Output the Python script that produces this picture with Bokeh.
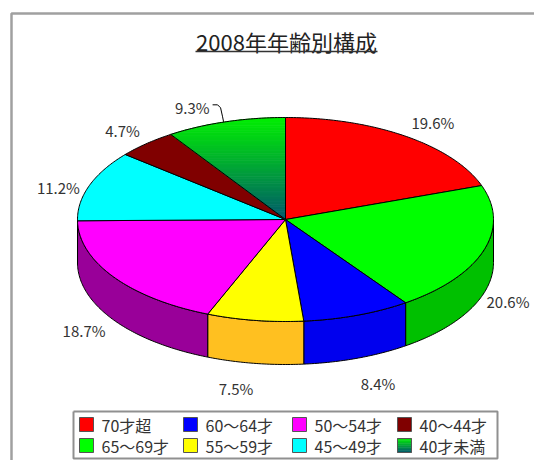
import math
from bokeh.plotting import figure
from bokeh.models import Range1d
from bokeh.core.properties import value
from bokeh.embed import file_html
from bokeh.resources import INLINE

# ---------------- data ----------------
chart_title = "2008年年齢別構成"
categories = ["70才超", "65～69才", "60～64才", "55～59才",
              "50～54才", "45～49才", "40～44才", "40才未満"]
shares = [19.6, 20.6, 8.4, 7.5, 18.7, 11.2, 4.7, 9.3]
top_colors = ["#FF0000", "#00FF00", "#0000FF", "#FFFF00",
              "#FF00FF", "#00FFFF", "#800000", "gradient"]
side_colors = ["#C00000", "#00C000", "#0000EE", "#FFC020",
               "#990099", "#00C0C0", "#600000", "#008060"]
grad_top = (0, 240, 0)
grad_bottom = (0, 88, 108)

# ---------------- layout ----------------
FONT = "Noto Sans CJK JP"
TXT = "#333333"
W, H = 534, 460
cx, cy, rx, ry, depth = 285.0, 219.0, 208.0, 102.0, 43.0

p = figure(width=W, height=H, x_range=Range1d(0, W), y_range=Range1d(H, 0),
           output_backend="svg", toolbar_location=None, min_border=0)
p.axis.visible = False
p.grid.visible = False
p.outline_line_color = None
p.background_fill_color = "white"
p.border_fill_color = "white"


def pt(theta, dy=0.0):
    t = math.radians(theta)
    return cx + rx * math.sin(t), cy - ry * math.cos(t) + dy


def arc(a, b, dy=0.0):
    n = max(2, int(abs(b - a) / 0.75) + 2)
    return [pt(a + (b - a) * i / (n - 1), dy) for i in range(n)]


def clip_half(poly, f):
    out = []
    n = len(poly)
    for i in range(n):
        P, Q = poly[i], poly[(i + 1) % n]
        fp, fq = f(P), f(Q)
        if fp >= 0:
            out.append(P)
        if (fp >= 0) != (fq >= 0):
            t = fp / (fp - fq)
            out.append((P[0] + t * (Q[0] - P[0]), P[1] + t * (Q[1] - P[1])))
    return out


def mix(c0, c1, t):
    return "#%02x%02x%02x" % tuple(int(round(c0[k] + (c1[k] - c0[k]) * t)) for k in range(3))


# frame
p.line([11, 11, W], [H + 2, 13, 13], line_color="#A0A0A0", line_width=2.5)

# angles
total = sum(shares)
starts, ends = [], []
acc = 0.0
for s in shares:
    starts.append(acc / total * 360.0)
    acc += s
    ends.append(acc / total * 360.0)

# side walls (front half: 90..270 deg)
sx, sy, sc = [], [], []
for a, b, col in zip(starts, ends, side_colors):
    a2, b2 = max(a, 90.0), min(b, 270.0)
    if b2 <= a2:
        continue
    poly = arc(a2, b2) + arc(b2, a2, depth)
    sx.append([q[0] for q in poly])
    sy.append([q[1] for q in poly])
    sc.append(col)
p.patches(sx, sy, fill_color=sc, line_color="black", line_width=1)

# top faces
tx, ty, tc = [], [], []
grad_polys = []
for a, b, col in zip(starts, ends, top_colors):
    poly = [(cx, cy)] + arc(a, b)
    if col == "gradient":
        grad_polys.append(poly)
        continue
    tx.append([q[0] for q in poly])
    ty.append([q[1] for q in poly])
    tc.append(col)
p.patches(tx, ty, fill_color=tc, line_color="black", line_width=1)

for poly in grad_polys:
    ymin = min(q[1] for q in poly)
    ymax = max(q[1] for q in poly)
    nb = 40
    bx, by, bc = [], [], []
    for i in range(nb):
        y0 = ymin + (ymax - ymin) * i / nb
        y1 = ymin + (ymax - ymin) * (i + 1) / nb
        band = clip_half(poly, lambda q: q[1] - y0)
        band = clip_half(band, lambda q: y1 - q[1]) if band else band
        if len(band) < 3:
            continue
        bx.append([q[0] for q in band])
        by.append([q[1] for q in band])
        bc.append(mix(grad_top, grad_bottom, (i + 0.5) / nb))
    p.patches(bx, by, fill_color=bc, line_color=bc, line_width=0.8)
    p.patch([q[0] for q in poly], [q[1] for q in poly], fill_alpha=0,
            line_color="black", line_width=1)

# percentage labels
gap = 10.0
label_w = 44
for i, (a, b, s) in enumerate(zip(starts, ends, shares)):
    mid = math.radians((a + b) / 2)
    sn, cs = math.sin(mid), math.cos(mid)
    label = f"{s:.1f}%"
    if i == len(shares) - 1:
        # dragged label with leader line
        R = pt((a + b) / 2)
        p.line([R[0] - 13, R[0] - 8, R[0] - 5, R[0] - 3, R[0] - 2],
               [R[1] - 17, R[1] - 17, R[1] - 14, R[1] - 5, R[1]],
               line_color="black", line_width=1)
        p.text([R[0] - 16], [R[1] - 14], text=[label], text_font=value(FONT),
               text_font_size="15px", text_color=TXT, text_align="right",
               text_baseline="middle")
        continue
    ax = cx + (rx + gap) * sn
    ay = cy + 5 - (ry + gap) * cs + (depth if cs < 0 else 0)
    align = "left" if sn > 0.05 else ("right" if sn < -0.05 else "center")
    if align == "left":
        ax = min(ax, W - label_w - 4)
    base = "bottom" if cs > 0.7 else ("top" if cs < -0.7 else "middle")
    p.text([ax], [ay], text=[label], text_font=value(FONT), text_font_size="15px",
           text_color=TXT, text_align=align, text_baseline=base)

# title
p.text([286], [40], text=[chart_title], text_font=value(FONT), text_font_size="22px",
       text_color="#222222", text_align="center", text_baseline="middle")
p.line([195, 377], [51, 51], line_color="#333333", line_width=1.3)

# legend (kept inside the figure's height)
p.line([73, 497, 497, 73, 73], [411, 411, 458, 458, 411], line_color="#909090", line_width=2)
col_x = [79, 183, 292, 397]
row_y = [424, 445]
sq = 14
for k, (cat, col) in enumerate(zip(categories, top_colors)):
    x0 = col_x[k // 2]
    yc = row_y[k % 2]
    if col == "gradient":
        nb = 8
        for j in range(nb):
            c = mix(grad_top, grad_bottom, (j + 0.5) / nb)
            p.quad(left=[x0], right=[x0 + sq], top=[yc - sq / 2 + sq * j / nb],
                   bottom=[yc - sq / 2 + sq * (j + 1) / nb], fill_color=c, line_color=c,
                   line_width=0.5)
        p.quad(left=[x0], right=[x0 + sq], top=[yc - sq / 2], bottom=[yc + sq / 2],
               fill_alpha=0, line_color="#555555", line_width=1)
    else:
        p.quad(left=[x0], right=[x0 + sq], top=[yc - sq / 2], bottom=[yc + sq / 2],
               fill_color=col, line_color="#555555", line_width=1)
    p.text([x0 + 22], [yc], text=[cat], text_font=value(FONT), text_font_size="16px",
           text_color=TXT, text_align="left", text_baseline="middle")

open("out.html", "w").write(file_html(p, INLINE))
